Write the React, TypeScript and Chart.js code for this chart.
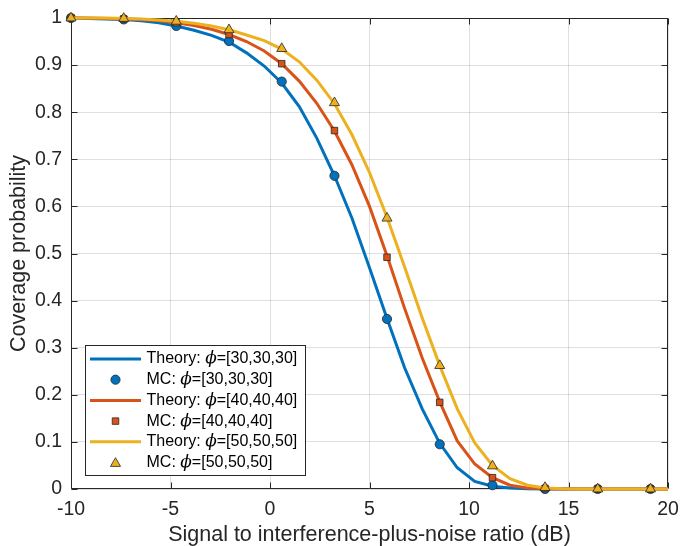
import React, { useEffect, useRef } from 'react';
import { Chart, registerables } from 'chart.js';

Chart.register(...registerables);

// ---- data ----
const snrTheory = [
  -10, -9.12, -8.24, -7.35, -6.47, -5.59, -4.71, -3.82, -2.94, -2.06, -1.18, -0.29,
  0.59, 1.47, 2.35, 3.24, 4.12, 5, 5.88, 6.76, 7.65, 8.53, 9.41, 10.29, 11.18, 12.06,
  12.94, 13.82, 14.71, 15.59, 16.47, 17.35, 18.24, 19.12, 20,
];
const theory30 = [
  1.0, 0.999, 0.998, 0.997, 0.994, 0.99, 0.983, 0.974, 0.963, 0.949, 0.926, 0.898,
  0.862, 0.812, 0.745, 0.665, 0.575, 0.47, 0.362, 0.258, 0.17, 0.097, 0.045, 0.016,
  0.006, 0.002, 0.0005, 0, 0, 0, 0, 0, 0, 0, 0,
];
const theory40 = [
  1.0, 1.0, 0.999, 0.998, 0.997, 0.994, 0.99, 0.984, 0.976, 0.965, 0.95, 0.93,
  0.903, 0.866, 0.819, 0.76, 0.688, 0.6, 0.495, 0.384, 0.278, 0.185, 0.102, 0.053,
  0.024, 0.008, 0.002, 0.0005, 0, 0, 0, 0, 0, 0, 0,
];
const theory50 = [
  1.0, 1.0, 1.0, 0.999, 0.998, 0.996, 0.993, 0.989, 0.983, 0.975, 0.964, 0.952,
  0.934, 0.907, 0.868, 0.818, 0.752, 0.672, 0.577, 0.472, 0.363, 0.262, 0.17, 0.098,
  0.05, 0.022, 0.008, 0.002, 0.0005, 0, 0, 0, 0, 0, 0,
];
const snrMC = [-10, -7.35, -4.71, -2.06, 0.59, 3.24, 5.88, 8.53, 11.18, 13.82, 16.47, 19.12];
const mc30 = [1.0, 0.997, 0.983, 0.951, 0.865, 0.665, 0.361, 0.095, 0.008, 0, 0, 0];
const mc40 = [1.0, 0.998, 0.99, 0.965, 0.903, 0.761, 0.492, 0.184, 0.024, 0.001, 0, 0];
const mc50 = [1.0, 0.999, 0.993, 0.975, 0.935, 0.82, 0.575, 0.262, 0.049, 0.003, 0, 0];

const seriesLabels = [
  'Theory: ϕ=[30,30,30]',
  'MC: ϕ=[30,30,30]',
  'Theory: ϕ=[40,40,40]',
  'MC: ϕ=[40,40,40]',
  'Theory: ϕ=[50,50,50]',
  'MC: ϕ=[50,50,50]',
];
const xTitle = 'Signal to interference-plus-noise ratio (dB)';
const yTitle = 'Coverage probability';

const colors = ['#0072BD', '#D95319', '#EDB120'];
const markers = ['circle', 'rect', 'triangle'];

const FONT = "'Liberation Sans', Arial, Helvetica, sans-serif";
const AXIS_COLOR = '#262626';
const EDGE = '#262626';

const zip = (xs: number[], ys: number[]) => xs.map((x, i) => ({ x, y: ys[i] }));

function drawMarker(ctx: CanvasRenderingContext2D, kind: string, x: number, y: number, r: number, fill: string) {
  ctx.save();
  ctx.fillStyle = fill;
  ctx.strokeStyle = EDGE;
  ctx.lineWidth = 0.8;
  ctx.beginPath();
  if (kind === 'circle') {
    ctx.arc(x, y, r, 0, Math.PI * 2);
  } else if (kind === 'rect') {
    const s = Math.SQRT1_2 * r;
    ctx.rect(x - s, y - s, 2 * s, 2 * s);
  } else {
    let rad = 0;
    ctx.moveTo(x + Math.sin(rad) * r, y - Math.cos(rad) * r);
    rad += (2 * Math.PI) / 3;
    ctx.lineTo(x + Math.sin(rad) * r, y - Math.cos(rad) * r);
    rad += (2 * Math.PI) / 3;
    ctx.lineTo(x + Math.sin(rad) * r, y - Math.cos(rad) * r);
    ctx.closePath();
  }
  ctx.fill();
  ctx.stroke();
  ctx.restore();
}

const markerRadius: Record<string, number> = { circle: 4.6, rect: 4.6, triangle: 5.8 };

const matlabPlugin = {
  id: 'matlabBox',
  beforeDatasetsDraw(chart: any) {
    const { ctx, chartArea, scales } = chart;
    const { left, right, top, bottom } = chartArea;
    ctx.save();
    ctx.strokeStyle = AXIS_COLOR;
    ctx.lineWidth = 1;
    ctx.beginPath();
    const L = Math.round(left) + 0.5;
    const R = Math.round(right) - 0.5;
    const T = Math.round(top) + 0.5;
    const B = Math.round(bottom) - 0.5;
    ctx.rect(L, T, R - L, B - T);
    const tl = 6;
    scales.x.ticks.forEach((t: any) => {
      const px = Math.round(scales.x.getPixelForValue(t.value)) + 0.5;
      ctx.moveTo(px, B);
      ctx.lineTo(px, B - tl);
      ctx.moveTo(px, T);
      ctx.lineTo(px, T + tl);
    });
    scales.y.ticks.forEach((t: any) => {
      const py = Math.round(scales.y.getPixelForValue(t.value)) + 0.5;
      ctx.moveTo(L, py);
      ctx.lineTo(L + tl, py);
      ctx.moveTo(R, py);
      ctx.lineTo(R - tl, py);
    });
    ctx.stroke();
    ctx.restore();
  },
  afterDraw(chart: any) {
    const { ctx, chartArea } = chart;
    const bx = Math.round(chartArea.left) + 14.5;
    const bw = 220;
    const bh = 130;
    const by = Math.round(chartArea.bottom) - 13.5 - bh;
    ctx.save();
    ctx.fillStyle = '#ffffff';
    ctx.strokeStyle = AXIS_COLOR;
    ctx.lineWidth = 1;
    ctx.fillRect(bx, by, bw, bh);
    ctx.strokeRect(bx, by, bw, bh);
    const rowH = 20.7;
    const firstY = by + 13.5;
    const lineX0 = bx + 4.5;
    const lineX1 = bx + 55.5;
    const markX = bx + 30;
    const textX = bx + 61;
    seriesLabels.forEach((label, i) => {
      const y = firstY + i * rowH;
      const c = colors[Math.floor(i / 2)];
      if (i % 2 === 0) {
        ctx.strokeStyle = c;
        ctx.lineWidth = 3;
        ctx.beginPath();
        ctx.moveTo(lineX0, y);
        ctx.lineTo(lineX1, y);
        ctx.stroke();
      } else {
        const k = markers[Math.floor(i / 2)];
        drawMarker(ctx, k, markX, y + (k === 'triangle' ? 1 : 0), markerRadius[k], c);
      }
      const parts = label.split('ϕ');
      ctx.fillStyle = '#000000';
      ctx.textBaseline = 'middle';
      ctx.textAlign = 'left';
      let x = textX;
      ctx.font = `16px ${FONT}`;
      ctx.fillText(parts[0], x, y);
      x += ctx.measureText(parts[0]).width;
      ctx.font = `italic 17px 'DejaVu Serif', serif`;
      ctx.fillText('ϕ', x, y);
      x += ctx.measureText('ϕ').width;
      ctx.font = `16px ${FONT}`;
      ctx.fillText(parts[1], x, y);
    });
    ctx.restore();
  },
};

export default function App() {
  const canvasRef = useRef<HTMLCanvasElement | null>(null);

  useEffect(() => {
    const canvas = canvasRef.current;
    if (!canvas) return;
    const theory = [theory30, theory40, theory50];
    const mc = [mc30, mc40, mc50];
    const datasets: any[] = [];
    for (let s = 0; s < 3; s++) {
      datasets.push({
        label: seriesLabels[2 * s],
        data: zip(snrTheory, theory[s]),
        borderColor: colors[s],
        backgroundColor: colors[s],
        borderWidth: 3,
        pointRadius: 0,
        tension: 0,
        fill: false,
        clip: false,
        order: 6 - 2 * s,
      });
      datasets.push({
        label: seriesLabels[2 * s + 1],
        data: zip(snrMC, mc[s]),
        showLine: false,
        pointStyle: markers[s],
        pointRadius: markerRadius[markers[s]],
        pointBackgroundColor: colors[s],
        pointBorderColor: EDGE,
        pointBorderWidth: 0.8,
        borderColor: colors[s],
        backgroundColor: colors[s],
        clip: false,
        order: 5 - 2 * s,
      });
    }
    const chart = new Chart(canvas, {
      type: 'line',
      data: { datasets },
      plugins: [matlabPlugin],
      options: {
        responsive: false,
        animation: false,
        layout: { padding: { left: 0, top: 18, right: 12, bottom: 0 } },
        plugins: {
          legend: { display: false },
          tooltip: { enabled: false },
        },
        scales: {
          x: {
            type: 'linear',
            min: -10,
            max: 20,
            afterFit: (scale: any) => {
              scale.height = 57;
              scale.paddingLeft = 0;
              scale.paddingRight = 0;
            },
            ticks: {
              stepSize: 5,
              color: AXIS_COLOR,
              font: { family: FONT, size: 19.5 },
              padding: 9,
              maxRotation: 0,
            },
            grid: { color: 'rgba(38,38,38,0.15)', drawTicks: false },
            border: { display: false },
            title: {
              display: true,
              text: xTitle,
              color: AXIS_COLOR,
              font: { family: FONT, size: 21.5, lineHeight: 1.0 },
              padding: { top: 0, bottom: 0 },
            },
          },
          y: {
            type: 'linear',
            min: 0,
            max: 1,
            afterFit: (scale: any) => {
              scale.width = 71;
              scale.paddingTop = 0;
              scale.paddingBottom = 0;
            },
            ticks: {
              stepSize: 0.1,
              color: AXIS_COLOR,
              font: { family: FONT, size: 19.5 },
              padding: 9,
              callback: (v: any) => String(Number(Number(v).toFixed(1))),
            },
            grid: { color: 'rgba(38,38,38,0.15)', drawTicks: false },
            border: { display: false },
            title: {
              display: true,
              text: yTitle,
              color: AXIS_COLOR,
              font: { family: FONT, size: 21.5 },
              padding: { top: 6, bottom: 0 },
            },
          },
        },
      },
    });
    return () => {
      chart.destroy();
    };
  }, []);

  return (
    <div style={{ position: 'fixed', left: 0, top: 0, width: 680, height: 546, background: '#fff' }}>
      <canvas ref={canvasRef} width={680} height={546} style={{ display: 'block' }} />
    </div>
  );
}
